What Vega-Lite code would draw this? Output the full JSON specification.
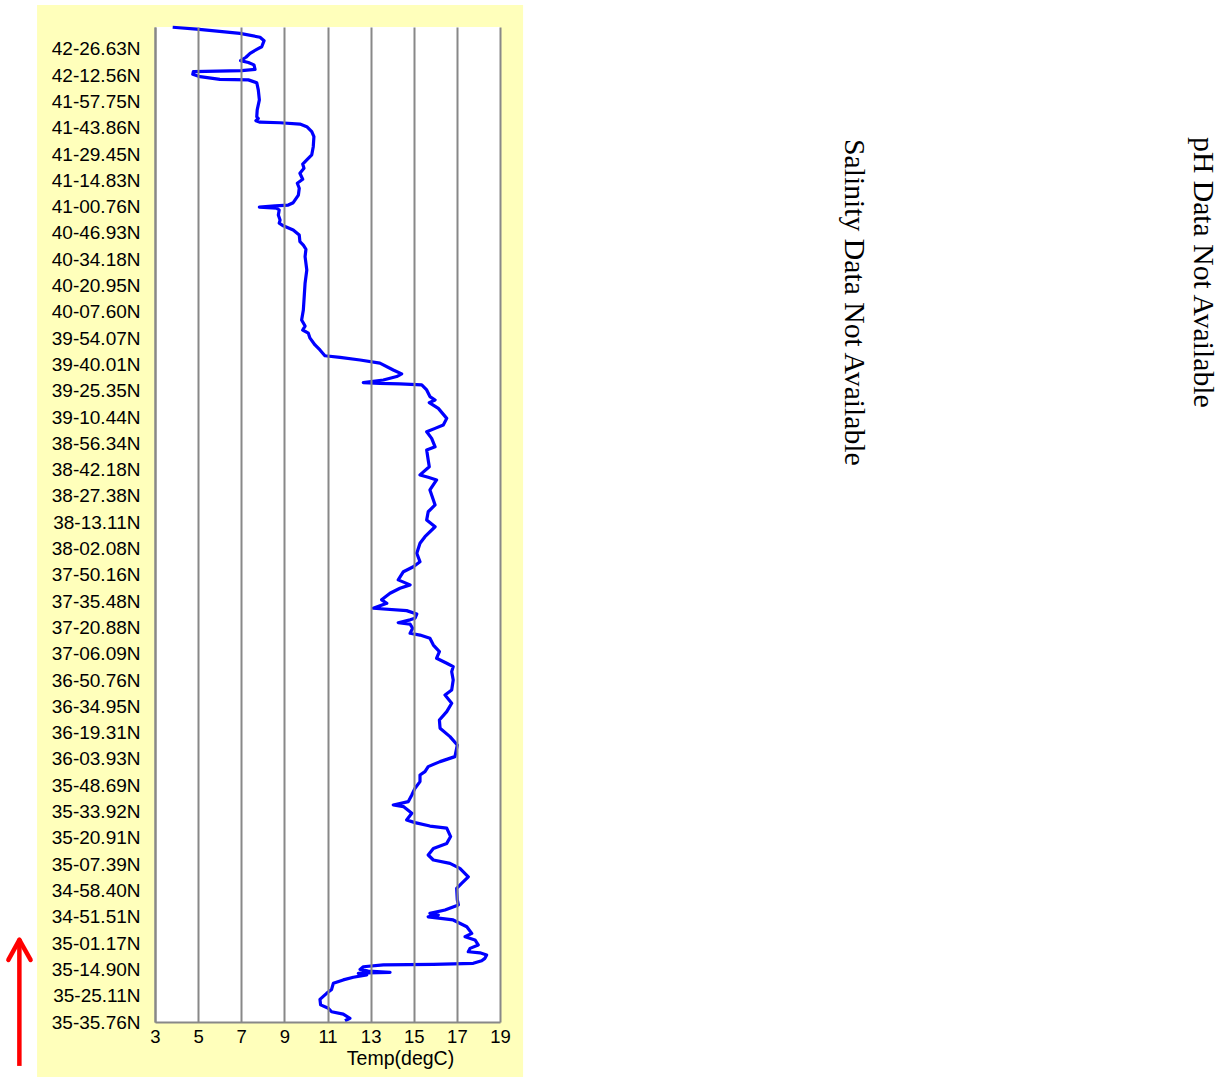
{
  "$schema": "https://vega.github.io/schema/vega-lite/v6.json",
  "autosize": {"type": "none"},
  "width": 345,
  "height": 995,
  "padding": {"left": 155, "top": 27, "right": 727, "bottom": 56},
  "background": "white",
  "config": {"view": {"stroke": null}},
  "datasets": {
    "track": [
      {"temp":3.82,"pos":37.82},{"temp":4.93,"pos":37.75},{"temp":6.94,"pos":37.59},{"temp":7.87,"pos":37.44},{"temp":8.06,"pos":37.31},
      {"temp":7.95,"pos":37.08},{"temp":7.72,"pos":36.98},{"temp":7.41,"pos":36.83},{"temp":7.22,"pos":36.68},{"temp":6.97,"pos":36.55},
      {"temp":7.33,"pos":36.48},{"temp":7.59,"pos":36.39},{"temp":7.64,"pos":36.22},{"temp":7.02,"pos":36.17},{"temp":4.78,"pos":36.13},
      {"temp":4.75,"pos":36.03},{"temp":5.09,"pos":35.94},{"temp":6.01,"pos":35.84},{"temp":7.33,"pos":35.82},{"temp":7.72,"pos":35.71},
      {"temp":7.79,"pos":35.44},{"temp":7.84,"pos":35.06},{"temp":7.74,"pos":34.68},{"temp":7.72,"pos":34.42},{"temp":7.79,"pos":34.35},
      {"temp":7.68,"pos":34.27},{"temp":7.87,"pos":34.21},{"temp":8.80,"pos":34.19},{"temp":9.72,"pos":34.14},{"temp":10.04,"pos":34.04},
      {"temp":10.27,"pos":33.85},{"temp":10.37,"pos":33.66},{"temp":10.34,"pos":33.28},{"temp":10.27,"pos":32.97},{"temp":10.04,"pos":32.78},
      {"temp":9.85,"pos":32.62},{"temp":9.91,"pos":32.46},{"temp":9.72,"pos":32.27},{"temp":9.85,"pos":32.04},{"temp":9.60,"pos":31.89},
      {"temp":9.69,"pos":31.70},{"temp":9.65,"pos":31.44},{"temp":9.41,"pos":31.15},{"temp":9.18,"pos":31.06},{"temp":8.57,"pos":31.03},
      {"temp":7.84,"pos":30.98},{"temp":8.64,"pos":30.94},{"temp":8.76,"pos":30.87},{"temp":8.72,"pos":30.68},{"temp":8.80,"pos":30.49},
      {"temp":8.76,"pos":30.37},{"temp":8.95,"pos":30.27},{"temp":9.41,"pos":30.11},{"temp":9.69,"pos":29.92},{"temp":9.72,"pos":29.67},
      {"temp":9.88,"pos":29.54},{"temp":10.00,"pos":29.38},{"temp":9.96,"pos":29.10},{"temp":10.04,"pos":28.59},{"temp":9.96,"pos":28.09},
      {"temp":9.92,"pos":27.58},{"temp":9.88,"pos":27.07},{"temp":9.80,"pos":26.69},{"temp":9.96,"pos":26.46},{"temp":9.85,"pos":26.31},
      {"temp":10.11,"pos":26.19},{"temp":10.19,"pos":26.00},{"temp":10.42,"pos":25.74},{"temp":10.65,"pos":25.55},{"temp":10.88,"pos":25.33},
      {"temp":11.58,"pos":25.27},{"temp":12.51,"pos":25.17},{"temp":13.43,"pos":25.05},{"temp":14.05,"pos":24.79},{"temp":14.44,"pos":24.64},
      {"temp":14.21,"pos":24.54},{"temp":13.59,"pos":24.41},{"temp":12.66,"pos":24.31},{"temp":13.43,"pos":24.28},{"temp":14.36,"pos":24.26},
      {"temp":15.37,"pos":24.22},{"temp":15.60,"pos":24.03},{"temp":15.75,"pos":23.78},{"temp":15.99,"pos":23.65},{"temp":15.72,"pos":23.55},
      {"temp":16.14,"pos":23.33},{"temp":16.53,"pos":22.95},{"temp":16.37,"pos":22.70},{"temp":15.99,"pos":22.57},{"temp":15.60,"pos":22.44},
      {"temp":15.83,"pos":22.19},{"temp":15.99,"pos":21.87},{"temp":15.60,"pos":21.75},{"temp":15.67,"pos":21.37},{"temp":15.72,"pos":21.11},
      {"temp":15.29,"pos":20.80},{"temp":15.67,"pos":20.71},{"temp":16.06,"pos":20.61},{"temp":15.75,"pos":20.23},{"temp":15.99,"pos":19.66},
      {"temp":15.67,"pos":19.40},{"temp":15.60,"pos":19.09},{"temp":15.99,"pos":18.83},{"temp":15.52,"pos":18.45},{"temp":15.29,"pos":18.20},
      {"temp":15.14,"pos":17.82},{"temp":15.29,"pos":17.50},{"temp":14.98,"pos":17.31},{"temp":14.52,"pos":17.12},{"temp":14.28,"pos":16.81},
      {"temp":14.83,"pos":16.62},{"temp":14.36,"pos":16.49},{"temp":13.90,"pos":16.30},{"temp":13.51,"pos":16.05},{"temp":13.75,"pos":15.92},
      {"temp":13.12,"pos":15.73},{"temp":14.67,"pos":15.64},{"temp":15.14,"pos":15.51},{"temp":15.06,"pos":15.35},{"temp":14.83,"pos":15.29},
      {"temp":14.28,"pos":15.18},{"temp":14.83,"pos":15.13},{"temp":14.95,"pos":14.97},{"temp":14.83,"pos":14.78},{"temp":15.29,"pos":14.71},
      {"temp":15.75,"pos":14.59},{"temp":15.91,"pos":14.33},{"temp":16.19,"pos":14.08},{"temp":16.06,"pos":13.83},{"temp":16.53,"pos":13.64},
      {"temp":16.83,"pos":13.51},{"temp":16.76,"pos":13.32},{"temp":16.83,"pos":13.00},{"temp":16.76,"pos":12.62},{"temp":16.45,"pos":12.43},
      {"temp":16.76,"pos":12.12},{"temp":16.53,"pos":11.80},{"temp":16.19,"pos":11.48},{"temp":16.22,"pos":11.17},{"temp":16.68,"pos":10.85},
      {"temp":17.02,"pos":10.53},{"temp":16.91,"pos":10.09},{"temp":16.22,"pos":9.90},{"temp":15.67,"pos":9.71},{"temp":15.52,"pos":9.52},
      {"temp":15.29,"pos":9.39},{"temp":15.29,"pos":9.14},{"temp":15.06,"pos":8.89},{"temp":14.91,"pos":8.63},{"temp":14.75,"pos":8.38},
      {"temp":14.05,"pos":8.25},{"temp":14.52,"pos":8.19},{"temp":14.91,"pos":7.94},{"temp":14.67,"pos":7.68},{"temp":15.06,"pos":7.58},
      {"temp":15.75,"pos":7.45},{"temp":16.53,"pos":7.37},{"temp":16.71,"pos":7.05},{"temp":16.53,"pos":6.79},{"temp":15.91,"pos":6.60},
      {"temp":15.67,"pos":6.35},{"temp":15.91,"pos":6.16},{"temp":16.68,"pos":6.03},{"temp":17.14,"pos":5.84},{"temp":17.53,"pos":5.52},
      {"temp":17.22,"pos":5.27},{"temp":16.99,"pos":5.08},{"temp":17.02,"pos":4.64},{"temp":17.07,"pos":4.45},{"temp":16.45,"pos":4.26},
      {"temp":15.75,"pos":4.13},{"temp":16.14,"pos":4.07},{"temp":15.67,"pos":4.00},{"temp":16.83,"pos":3.88},{"temp":17.46,"pos":3.62},
      {"temp":17.69,"pos":3.37},{"temp":17.38,"pos":3.24},{"temp":17.84,"pos":3.12},{"temp":17.99,"pos":2.93},{"temp":17.61,"pos":2.80},
      {"temp":17.53,"pos":2.67},{"temp":18.07,"pos":2.63},{"temp":18.38,"pos":2.55},{"temp":18.30,"pos":2.42},{"temp":18.15,"pos":2.33},
      {"temp":17.76,"pos":2.23},{"temp":15.91,"pos":2.19},{"temp":13.59,"pos":2.17},{"temp":12.66,"pos":2.10},{"temp":12.51,"pos":2.00},
      {"temp":12.89,"pos":1.94},{"temp":13.90,"pos":1.89},{"temp":12.82,"pos":1.87},{"temp":12.43,"pos":1.85},{"temp":12.82,"pos":1.79},
      {"temp":12.20,"pos":1.70},{"temp":11.73,"pos":1.60},{"temp":11.27,"pos":1.47},{"temp":11.19,"pos":1.24},{"temp":10.96,"pos":1.09},
      {"temp":10.65,"pos":0.86},{"temp":10.68,"pos":0.65},{"temp":11.04,"pos":0.52},{"temp":11.19,"pos":0.39},{"temp":11.73,"pos":0.30},
      {"temp":12.04,"pos":0.14},{"temp":11.81,"pos":0.05}
    ]
  },
  "encoding": {
    "x": {
      "type": "quantitative",
      "scale": {"domain": [3, 19], "nice": false, "zero": false},
      "axis": {
        "values": [3, 5, 7, 9, 11, 13, 15, 17, 19],
        "grid": true, "gridColor": "#888888", "gridWidth": 2, "gridOpacity": 1,
        "domain": true, "domainColor": "#888888", "domainWidth": 2,
        "ticks": false, "labelFlush": false,
        "labelFont": "Liberation Sans", "labelFontSize": 18.5, "labelColor": "#000000",
        "labelBaseline": "alphabetic", "labelPadding": 20,
        "title": "Temp(degC)", "titleFont": "Liberation Sans", "titleFontSize": 19.5,
        "titleFontWeight": "normal", "titleColor": "#000000",
        "titleX": 245, "titleY": 42, "titleAlign": "center", "titleBaseline": "alphabetic",
        "zindex": 1
      }
    },
    "y": {
      "type": "quantitative",
      "scale": {"domain": [0, 37.83], "nice": false, "zero": false},
      "axis": {
        "values": [0,1,2,3,4,5,6,7,8,9,10,11,12,13,14,15,16,17,18,19,20,21,22,23,24,25,26,27,28,29,30,31,32,33,34,35,36,37],
        "labelExpr": "['35-35.76N','35-25.11N','35-14.90N','35-01.17N','34-51.51N','34-58.40N','35-07.39N','35-20.91N','35-33.92N','35-48.69N','36-03.93N','36-19.31N','36-34.95N','36-50.76N','37-06.09N','37-20.88N','37-35.48N','37-50.16N','38-02.08N','38-13.11N','38-27.38N','38-42.18N','38-56.34N','39-10.44N','39-25.35N','39-40.01N','39-54.07N','40-07.60N','40-20.95N','40-34.18N','40-46.93N','41-00.76N','41-14.83N','41-29.45N','41-43.86N','41-57.75N','42-12.56N','42-26.63N'][datum.value]",
        "grid": false, "domain": true, "domainColor": "#888888", "domainWidth": 2,
        "ticks": false, "labelOverlap": false,
        "labelFont": "Liberation Sans", "labelFontSize": 19, "labelColor": "#000000",
        "labelPadding": 15, "title": null, "zindex": 1
      }
    }
  },
  "layer": [
    {
      "data": {"values": [{}]},
      "mark": {"type": "rect", "color": "#FFFFBB"},
      "encoding": {
        "x": {"datum": -2.47, "type": "quantitative"}, "x2": {"datum": 20.07},
        "y": {"datum": -2.09, "type": "quantitative"}, "y2": {"datum": 38.67}
      }
    },
    {
      "data": {"values": [{}]},
      "mark": {"type": "rect", "color": "#FFFFFF"},
      "encoding": {
        "x": {"datum": 3, "type": "quantitative"}, "x2": {"datum": 19},
        "y": {"datum": 0, "type": "quantitative"}, "y2": {"datum": 37.83}
      }
    },
    {
      "data": {"name": "track"},
      "mark": {"type": "line", "color": "#0000FF", "strokeWidth": 3.2, "strokeJoin": "round"},
      "encoding": {
        "x": {"field": "temp", "type": "quantitative"},
        "y": {"field": "pos", "type": "quantitative"},
        "order": {"field": "pos", "sort": "descending"}
      }
    },
    {
      "data": {"values": [{}]},
      "mark": {"type": "rule", "color": "#FF0000", "strokeWidth": 4.5, "strokeCap": "butt"},
      "encoding": {
        "x": {"datum": -3.29, "type": "quantitative"},
        "y": {"datum": -1.67, "type": "quantitative"}, "y2": {"datum": 3.05}
      }
    },
    {
      "data": {"values": [{}]},
      "mark": {"type": "rule", "color": "#FF0000", "strokeWidth": 4.5, "strokeCap": "round"},
      "encoding": {
        "x": {"datum": -3.80, "type": "quantitative"}, "x2": {"datum": -3.29},
        "y": {"datum": 2.36, "type": "quantitative"}, "y2": {"datum": 3.12}
      }
    },
    {
      "data": {"values": [{}]},
      "mark": {"type": "rule", "color": "#FF0000", "strokeWidth": 4.5, "strokeCap": "round"},
      "encoding": {
        "x": {"datum": -2.77, "type": "quantitative"}, "x2": {"datum": -3.29},
        "y": {"datum": 2.36, "type": "quantitative"}, "y2": {"datum": 3.12}
      }
    },
    {
      "data": {"values": [{}]},
      "mark": {"type": "text", "text": "Salinity Data Not Available", "angle": 90, "align": "center", "baseline": "alphabetic", "font": "Liberation Serif", "fontSize": 29.7, "color": "#000000"},
      "encoding": {
        "x": {"datum": 35.0, "type": "quantitative"},
        "y": {"datum": 27.36, "type": "quantitative"}
      }
    },
    {
      "data": {"values": [{}]},
      "mark": {"type": "text", "text": "pH Data Not Available", "angle": 90, "align": "center", "baseline": "alphabetic", "font": "Liberation Serif", "fontSize": 29.7, "color": "#000000"},
      "encoding": {
        "x": {"datum": 51.2, "type": "quantitative"},
        "y": {"datum": 28.5, "type": "quantitative"}
      }
    }
  ]
}
